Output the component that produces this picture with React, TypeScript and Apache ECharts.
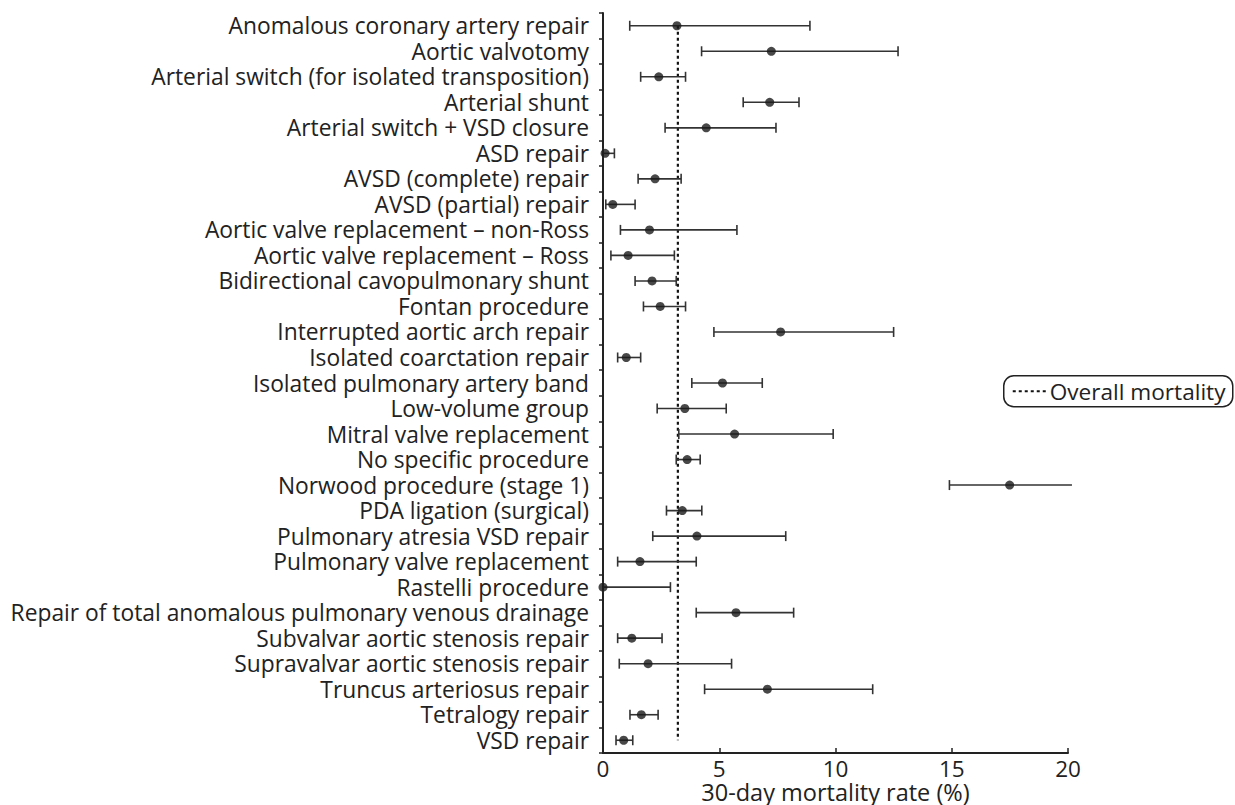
import React, { useEffect, useRef } from "react";
import * as echarts from "echarts";

// Procedure groups, top to bottom
const procedures = [
  "Anomalous coronary artery repair",
  "Aortic valvotomy",
  "Arterial switch (for isolated transposition)",
  "Arterial shunt",
  "Arterial switch + VSD closure",
  "ASD repair",
  "AVSD (complete) repair",
  "AVSD (partial) repair",
  "Aortic valve replacement – non-Ross",
  "Aortic valve replacement – Ross",
  "Bidirectional cavopulmonary shunt",
  "Fontan procedure",
  "Interrupted aortic arch repair",
  "Isolated coarctation repair",
  "Isolated pulmonary artery band",
  "Low-volume group",
  "Mitral valve replacement",
  "No specific procedure",
  "Norwood procedure (stage 1)",
  "PDA ligation (surgical)",
  "Pulmonary atresia VSD repair",
  "Pulmonary valve replacement",
  "Rastelli procedure",
  "Repair of total anomalous pulmonary venous drainage",
  "Subvalvar aortic stenosis repair",
  "Supravalvar aortic stenosis repair",
  "Truncus arteriosus repair",
  "Tetralogy repair",
  "VSD repair",
];

// 30-day mortality (%) with lower / upper confidence limits
const mortality = [
  3.18, 7.24, 2.4, 7.17, 4.44, 0.09, 2.24, 0.42, 2.0, 1.08, 2.11, 2.46, 7.64, 1.0, 5.14,
  3.52, 5.66, 3.62, 17.49, 3.41, 4.04, 1.59, 0.0, 5.72, 1.24, 1.94, 7.07, 1.65, 0.89,
];
const lowerCI = [
  1.15, 4.24, 1.62, 6.03, 2.67, 0.0, 1.51, 0.12, 0.75, 0.34, 1.38, 1.74, 4.77, 0.63, 3.82,
  2.33, 3.26, 3.15, 14.9, 2.73, 2.14, 0.63, 0.0, 4.01, 0.63, 0.7, 4.37, 1.16, 0.56,
];
const upperCI = [
  8.9, 12.69, 3.55, 8.43, 7.44, 0.49, 3.36, 1.38, 5.76, 3.07, 3.15, 3.55, 12.5, 1.62, 6.85,
  5.3, 9.9, 4.18, 20.17, 4.25, 7.86, 4.01, 2.9, 8.2, 2.54, 5.53, 11.6, 2.37, 1.28,
];

const overallMortality = 3.22;
const xTicks = [0, 5, 10, 15, 20];

const FONT = "'Open Sans', 'Noto Sans', sans-serif";
const INK = "#222";

export default function App() {
  const ref = useRef<HTMLDivElement>(null);

  useEffect(() => {
    if (!ref.current) return;
    const chart = echarts.init(ref.current, undefined, { renderer: "svg" });
    const xMax = xTicks[xTicks.length - 1];

    const whiskers = procedures.map((_, i) => [lowerCI[i], upperCI[i], i]);
    const points = procedures.map((_, i) => [mortality[i], i]);

    chart.setOption({
      animation: false,
      backgroundColor: "#fff",
      textStyle: { fontFamily: FONT, color: INK },
      grid: {
        left: 603,
        right: 167,
        top: 13,
        bottom: 52,
        containLabel: false,
        outerBoundsMode: "none",
      },
      xAxis: {
        type: "value",
        min: xTicks[0],
        max: xMax,
        interval: 5,
        splitLine: { show: false },
        axisLine: { show: true, lineStyle: { color: INK, width: 2 } },
        axisTick: { show: true, inside: true, length: 5, lineStyle: { color: INK, width: 1.5 } },
        axisLabel: { color: INK, fontSize: 22.5, fontFamily: FONT, margin: 3, lineHeight: 24 },
        name: "30-day mortality rate (%)",
        nameLocation: "middle",
        nameGap: 27,
        nameMoveOverlap: false,
        nameTextStyle: { color: INK, fontSize: 23.5, fontFamily: FONT, lineHeight: 24 },
      },
      yAxis: {
        type: "category",
        data: procedures,
        inverse: true,
        boundaryGap: true,
        axisLine: { show: true, lineStyle: { color: INK, width: 2 } },
        axisTick: { show: true, length: 4, lineStyle: { color: INK, width: 1.5 } },
        axisLabel: {
          color: INK,
          fontSize: 22.8,
          fontFamily: FONT,
          margin: 14,
          interval: 0,
          lineHeight: 24,
        },
        splitLine: { show: false },
      },
      series: [
        {
          name: "Overall mortality",
          type: "line",
          data: [
            [overallMortality, 0],
            [overallMortality, procedures.length - 1],
          ],
          showSymbol: false,
          symbol: "none",
          lineStyle: { color: "#111", width: 2.2, type: [3, 3] },
          z: 1,
        },
        {
          type: "custom",
          clip: false,
          data: whiskers,
          encode: { x: [0, 1], y: 2 },
          renderItem: (_params: any, api: any) => {
            const lo = api.value(0);
            const hi = api.value(1);
            const idx = api.value(2);
            const p0 = api.coord([lo, idx]);
            const p1 = api.coord([hi, idx]);
            const half = 5;
            const style = { stroke: "#333", lineWidth: 1.6 };
            const children: any[] = [
              { type: "line", shape: { x1: p0[0], y1: p0[1], x2: p1[0], y2: p1[1] }, style },
              { type: "line", shape: { x1: p0[0], y1: p0[1] - half, x2: p0[0], y2: p0[1] + half }, style },
            ];
            if (hi <= xMax) {
              children.push({
                type: "line",
                shape: { x1: p1[0], y1: p1[1] - half, x2: p1[0], y2: p1[1] + half },
                style,
              });
            }
            return { type: "group", children };
          },
          z: 2,
        },
        {
          type: "scatter",
          data: points,
          symbol: "circle",
          symbolSize: 9,
          clip: false,
          itemStyle: { color: "#1a1a1a" },
          z: 3,
        },
      ],
      graphic: [
        {
          type: "group",
          left: 1003,
          top: 375,
          children: [
            {
              type: "rect",
              shape: { x: 0, y: 0, width: 229, height: 31, r: 10 },
              style: { fill: "#fff", stroke: INK, lineWidth: 1.5 },
            },
            {
              type: "line",
              shape: { x1: 9, y1: 15.5, x2: 44, y2: 15.5 },
              style: { stroke: "#111", lineWidth: 2, lineDash: [3, 3] },
            },
            {
              type: "text",
              x: 46,
              y: 15.5,
              style: {
                text: "Overall mortality",
                fontSize: 22.6,
                fontFamily: FONT,
                fill: INK,
                verticalAlign: "middle",
                align: "left",
              },
            },
          ],
        },
      ],
    });

    return () => chart.dispose();
  }, []);

  return (
    <div
      ref={ref}
      style={{ position: "fixed", left: 0, top: 0, width: 1235, height: 805 }}
    />
  );
}
